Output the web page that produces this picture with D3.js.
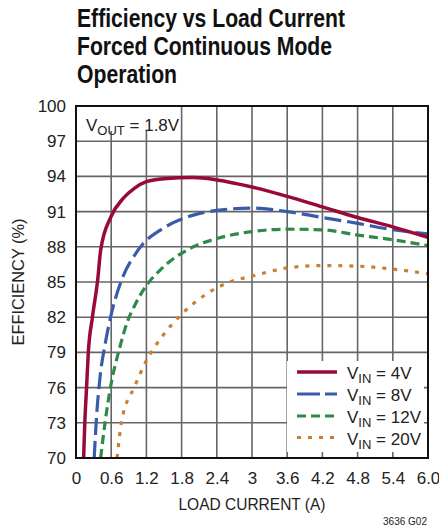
<!DOCTYPE html>
<html><head><meta charset="utf-8">
<script src="https://cdn.jsdelivr.net/npm/d3@7"></script>
<style>
body{margin:0;background:#fff;}
svg{display:block;}
text{font-family:"Liberation Sans Narrow","Arial Narrow","Liberation Sans",Arial,sans-serif;}
</style></head>
<body>
<svg id="c" width="439" height="529"></svg>
<script>
const titleLines = ["Efficiency vs Load Current", "Forced Continuous Mode", "Operation"];
const xTicks = [0, 0.6, 1.2, 1.8, 2.4, 3, 3.6, 4.2, 4.8, 5.4, 6.0];
const xTickLabels = ["0", "0.6", "1.2", "1.8", "2.4", "3", "3.6", "4.2", "4.8", "5.4", "6.0"];
const yTicks = [70, 73, 76, 79, 82, 85, 88, 91, 94, 97, 100];
const seriesNames = ["4V", "8V", "12V", "20V"];
const seriesColors = ["#9a0a36", "#3a5aab", "#2f8a48", "#c98036"];
const current4V = [0.13, 0.15, 0.18, 0.21, 0.28, 0.37, 0.42, 0.6, 0.8, 1.0, 1.2, 1.5, 2.0, 2.4, 3.0, 3.6, 4.2, 4.8, 5.4, 6.0];
const eff4V =     [70, 73, 76, 79, 82, 85.2, 87.7, 90.6, 92.1, 93.0, 93.55, 93.8, 93.9, 93.7, 93.1, 92.3, 91.4, 90.5, 89.7, 88.8];
const current8V = [0.31, 0.35, 0.41, 0.5, 0.58, 0.78, 1.0, 1.15, 1.43, 2.0, 2.4, 3.0, 3.6, 4.2, 4.8, 5.4, 6.0];
const eff8V =     [70, 73.5, 76.9, 79.8, 81.8, 85.2, 87.3, 88.3, 89.4, 90.7, 91.1, 91.3, 91.0, 90.5, 90.0, 89.45, 89.1];
const current12V = [0.42, 0.5, 0.58, 0.75, 0.89, 1.0, 1.23, 1.43, 2.0, 2.4, 3.0, 3.6, 4.2, 4.8, 5.4, 6.0];
const eff12V =     [70, 73.2, 75.8, 79.5, 81.8, 83.0, 84.9, 86.0, 88.0, 88.7, 89.3, 89.5, 89.45, 89.0, 88.6, 88.1];
const current20V = [0.7, 0.78, 1.0, 1.18, 1.49, 1.77, 2.23, 2.62, 3.0, 3.6, 4.2, 4.8, 5.4, 6.0];
const eff20V =     [70, 73.2, 76.1, 78.1, 80.5, 82.1, 84.0, 85.0, 85.5, 86.2, 86.4, 86.35, 86.1, 85.7];

const seriesX = [current4V, current8V, current12V, current20V];
const seriesY = [eff4V, eff8V, eff12V, eff20V];
const dashes = [null, "17,6", "9,5", "4,7"];
const widths = [3.5, 3.2, 3.2, 3.2];

const svg = d3.select("#c");
const L = 76, R = 428, T = 106, B = 458;
const x = d3.scaleLinear().domain([0, 6]).range([L, R]);
const y = d3.scaleLinear().domain([70, 100]).range([B, T]);

// title
const tw = [268, 255, 100];
titleLines.forEach((t, i) => {
  svg.append("text").attr("x", 77).attr("y", 27 + i * 28)
    .attr("font-size", 26).attr("font-weight", "bold").attr("fill", "#111")
    .attr("textLength", tw[i]).attr("lengthAdjust", "spacingAndGlyphs")
    .text(t);
});

// grid
const g = svg.append("g");
g.selectAll(".vx").data(xTicks.slice(1, -1)).enter().append("line")
  .attr("x1", d => x(d)).attr("x2", d => x(d)).attr("y1", T).attr("y2", B)
  .attr("stroke", "#666").attr("stroke-width", 1.6);
g.selectAll(".hy").data(yTicks.slice(1, -1)).enter().append("line")
  .attr("y1", d => y(d)).attr("y2", d => y(d)).attr("x1", L).attr("x2", R)
  .attr("stroke", "#666").attr("stroke-width", 1.6);

// white label box
svg.append("rect").attr("x", L).attr("y", T).attr("width", 100).attr("height", 25).attr("fill", "#fff");

// clip
svg.append("clipPath").attr("id", "clip").append("rect")
  .attr("x", L).attr("y", T).attr("width", R - L).attr("height", B - T);

const line = d3.line().x(d => x(d[0])).y(d => y(d[1])).curve(d3.curveMonotoneX);
const plot = svg.append("g").attr("clip-path", "url(#clip)");
[3, 2, 1, 0].forEach(i => {
  const pts = seriesX[i].map((v, k) => [v, seriesY[i][k]]);
  plot.append("path").datum(pts).attr("d", line)
    .attr("fill", "none").attr("stroke", seriesColors[i])
    .attr("stroke-width", widths[i])
    .attr("stroke-dasharray", dashes[i]);
});

// legend box
svg.append("rect").attr("x", 287).attr("y", 361).attr("width", 137).attr("height", 91).attr("fill", "#fff");
const legY = [372, 394, 416, 437.5];
seriesNames.forEach((n, i) => {
  svg.append("line").attr("x1", 297).attr("x2", 337).attr("y1", legY[i]).attr("y2", legY[i])
    .attr("stroke", seriesColors[i]).attr("stroke-width", widths[i])
    .attr("stroke-dasharray", i === 1 ? "23,5" : (i === 2 ? "9,5" : dashes[i]));
  const t = svg.append("text").attr("x", 347).attr("y", legY[i] + 7)
    .attr("font-size", 17).attr("fill", "#222");
  t.append("tspan").text("V");
  t.append("tspan").attr("font-size", 13).attr("dy", 4).text("IN");
  t.append("tspan").attr("dy", -4).text(" = " + n);
});

// Vout label
const vt = svg.append("text").attr("x", 86).attr("y", 131).attr("font-size", 17).attr("fill", "#222");
vt.append("tspan").text("V");
vt.append("tspan").attr("font-size", 13).attr("dy", 4).text("OUT");
vt.append("tspan").attr("dy", -4).text(" = 1.8V");

// frame
svg.append("rect").attr("x", L).attr("y", T).attr("width", R - L).attr("height", B - T)
  .attr("fill", "none").attr("stroke", "#111").attr("stroke-width", 2);

const ff = "'Liberation Sans Narrow','Arial Narrow','Liberation Sans',Arial,sans-serif";
const xAxis = d3.axisBottom(x).tickValues(xTicks).tickSize(0).tickPadding(14)
  .tickFormat((d, i) => xTickLabels[i]);
const xa = svg.append("g").attr("transform", `translate(0,${B})`).call(xAxis);
xa.select(".domain").remove();
xa.selectAll("text").attr("font-size", 17).attr("fill", "#222").attr("font-family", ff);

const yAxis = d3.axisLeft(y).tickValues(yTicks).tickSize(0).tickPadding(10).tickFormat(d3.format("d"));
const ya = svg.append("g").attr("transform", `translate(${L},0)`).call(yAxis);
ya.select(".domain").remove();
ya.selectAll("text").attr("font-size", 17).attr("fill", "#222").attr("font-family", ff);

svg.append("text").attr("x", 252).attr("y", 510).attr("text-anchor", "middle")
  .attr("font-size", 17).attr("fill", "#222")
  .attr("textLength", 147).attr("lengthAdjust", "spacingAndGlyphs").text("LOAD CURRENT (A)");
svg.append("text").attr("transform", "translate(24,282) rotate(-90)").attr("text-anchor", "middle")
  .attr("font-size", 16).attr("fill", "#222")
  .attr("textLength", 127).attr("lengthAdjust", "spacingAndGlyphs").text("EFFICIENCY (%)");
svg.append("text").attr("x", 427).attr("y", 525).attr("text-anchor", "end")
  .attr("font-size", 10).attr("fill", "#222").text("3636 G02");
</script>
</body></html>
